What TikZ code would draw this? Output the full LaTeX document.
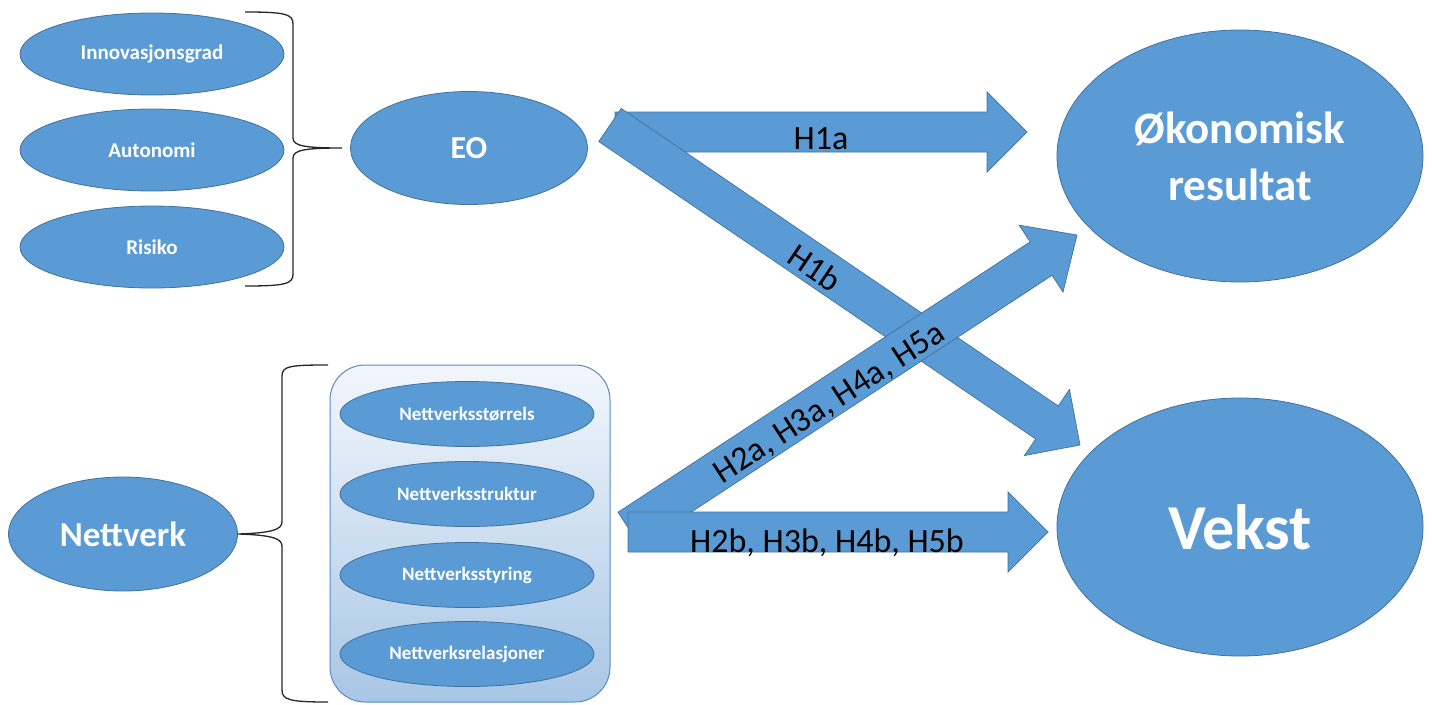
\documentclass[tikz,border=0pt]{standalone}
\usepackage{fontspec}
\setmainfont{Carlito}
\usetikzlibrary{shapes.geometric,calc}
\definecolor{obl}{HTML}{5B9BD5}
\definecolor{obd}{HTML}{41719C}
\definecolor{boxtop}{HTML}{F3F7FC}
\definecolor{boxbot}{HTML}{A8C6E6}
\definecolor{boxbd}{HTML}{5A8AC6}
\newcommand\myblockarrow[5]{%
  \coordinate (hb) at ($(#2)!#5!(#1)$);
  \draw[barr] ($(#1)!#3!90:(#2)$) -- ($(hb)!#3!90:(#2)$) -- ($(hb)!#4!90:(#2)$) -- (#2)
    -- ($(hb)!#4!-90:(#2)$) -- ($(hb)!#3!-90:(#2)$) -- ($(#1)!#3!-90:(#2)$) -- cycle;
}
\begin{document}
\begin{tikzpicture}[x=1pt,y=-1pt,
  ell/.style={ellipse, draw=obd, line width=0.8pt, fill=obl, inner sep=0pt, text=white},
  barr/.style={fill=obl, draw=obd, line width=0.7pt, line join=miter},
  lbl/.style={font=\fontsize{34}{40}\selectfont, text=black, inner sep=0pt},
  brace/.style={draw=black!85, line width=1.3pt}]
\useasboundingbox (0,0) rectangle (1432,704);

% left EO group
\node[ell, minimum width=264pt, minimum height=82pt, font=\bfseries\fontsize{21}{25}\selectfont] (inno) at (152,54) {Innovasjonsgrad};
\node[ell, minimum width=264pt, minimum height=82pt, font=\bfseries\fontsize{21}{25}\selectfont] (auto) at (152,150) {Autonomi};
\node[ell, minimum width=264pt, minimum height=82pt, font=\bfseries\fontsize{21}{25}\selectfont] (risk) at (152,247) {Risiko};
\node[ell, minimum width=237pt, minimum height=113pt, font=\bfseries\fontsize{32}{38}\selectfont] (eo) at (469,148) {EO};
\coordinate (b1tip) at (342,148);
\draw[brace] (245,12) .. controls (285,12) and (293,14) .. (293,24) -- (293,138)
  .. controls (293,146) and (305,148) .. (b1tip)
  .. controls (305,148) and (293,150) .. (293,158) -- (293,274)
  .. controls (293,284) and (285,286) .. (245,286);

% Nettverk group
\node[ell, minimum width=229pt, minimum height=114pt, font=\bfseries\fontsize{35}{40}\selectfont] (nett) at (123,534) {Nettverk};
\coordinate (b2tip) at (nett.east);
\draw[brace] (328,365) .. controls (290,365) and (282,366) .. (282,376) -- (282,522)
  .. controls (282,530) and (270,533) .. (b2tip)
  .. controls (270,535) and (282,538) .. (282,546) -- (282,690)
  .. controls (282,700) and (290,702) .. (328,702);
\node[draw=boxbd, line width=1pt, rounded corners=35pt, top color=boxtop, bottom color=boxbot,
  minimum width=280pt, minimum height=337pt, inner sep=0pt] (box) at (470,533.5) {};
\node[ell, minimum width=254pt, minimum height=65pt, font=\bfseries\fontsize{19}{22}\selectfont] (n1) at (467,414) {Nettverksstørrels};
\node[ell, minimum width=254pt, minimum height=65pt, font=\bfseries\fontsize{19}{22}\selectfont] (n2) at (467,494) {Nettverksstruktur};
\node[ell, minimum width=254pt, minimum height=65pt, font=\bfseries\fontsize{19}{22}\selectfont] (n3) at (467,575) {Nettverksstyring};
\node[ell, minimum width=254pt, minimum height=65pt, font=\bfseries\fontsize{19}{22}\selectfont] (n4) at (467,654) {Nettverksrelasjoner};

% outcome nodes
\node[ell, minimum width=366pt, minimum height=252pt, align=center, font=\bfseries\fontsize{45}{57}\selectfont] (oko) at (1240,156) {Økonomisk\\resultat};
\node[ell, minimum width=366pt, minimum height=258pt, font=\bfseries\fontsize{64}{70}\selectfont] (vekst) at (1240,527) {Vekst};

% block arrows
\coordinate (a1s) at (615,132);  \coordinate (a1t) at (1027,132);
\coordinate (b1s) at (610,125);  \coordinate (b1t) at (1080,445);
\coordinate (a2s) at (629,529);  \coordinate (a2t) at (1077,235);
\coordinate (b2s) at (628,532);  \coordinate (b2t) at (1048,532);
\myblockarrow{a1s}{a1t}{20pt}{40pt}{40pt}
\myblockarrow{b1s}{b1t}{20pt}{40pt}{40pt}
\myblockarrow{a2s}{a2t}{20pt}{40pt}{43pt}
\myblockarrow{b2s}{b2t}{20pt}{40pt}{40pt}

\node[lbl] (l1a) at (821,139) {H1a};
\node[lbl, rotate=-34] (l1b) at (815,268) {H1b};
\node[lbl, rotate=33] (l2a) at (830,404) {H2a, H3a, H4a, H5a};
\node[lbl] (l2b) at (827,543) {H2b, H3b, H4b, H5b};
\end{tikzpicture}
\end{document}
